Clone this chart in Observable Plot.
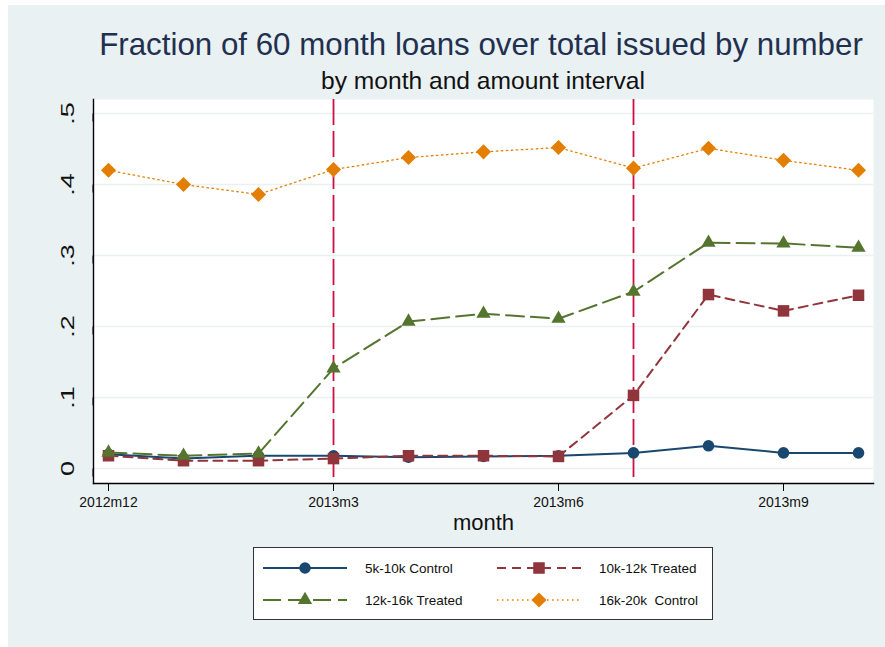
<!DOCTYPE html>
<html><head><meta charset="utf-8">
<script src="https://cdn.jsdelivr.net/npm/d3@7"></script>
<script src="https://cdn.jsdelivr.net/npm/@observablehq/plot@0.6"></script>
<style>
body{margin:0;background:#fff;width:885px;height:647px;overflow:hidden;position:relative;font-family:"Liberation Sans",Arial,sans-serif;}
#bg{position:absolute;left:8px;top:5px;width:877px;height:642px;background:#EAF1F3;}
#chart{position:absolute;left:0;top:0;}
.ttl{position:absolute;white-space:nowrap;transform:translateX(-50%);line-height:1;}
#title{left:481px;top:28.5px;font-size:31.3px;color:#22304f;}
#subtitle{left:483px;top:69px;font-size:24.6px;color:#111;}
#legend{position:absolute;left:253px;top:547px;}
</style></head>
<body>
<div id="bg"></div>
<div id="chart"></div>
<div class="ttl" id="title">Fraction of 60 month loans over total issued by number</div>
<div class="ttl" id="subtitle">by month and amount interval</div>
<div id="legend"></div>
<script>
const months = ["2012m12","2013m1","2013m2","2013m3","2013m4","2013m5","2013m6","2013m7","2013m8","2013m9","2013m10"];
const tickMonths = ["2012m12","2013m3","2013m6","2013m9"];
const treatMonths = ["2013m3","2013m7"];
const yTicks = [0, 0.1, 0.2, 0.3, 0.4, 0.5];
const ctrl5_10  = [0.020, 0.014, 0.018, 0.018, 0.016, 0.017, 0.018, 0.022, 0.032, 0.022, 0.022];
const trt10_12  = [0.018, 0.011, 0.011, 0.014, 0.018, 0.018, 0.017, 0.103, 0.245, 0.222, 0.244];
const trt12_16  = [0.0225, 0.018, 0.021, 0.141, 0.207, 0.218, 0.211, 0.249, 0.318, 0.317, 0.311];
const ctrl16_20 = [0.420, 0.400, 0.386, 0.421, 0.438, 0.446, 0.452, 0.423, 0.451, 0.434, 0.420];
const seriesNames = ["5k-10k Control","10k-12k Treated","12k-16k Treated","16k-20k  Control"];

const series = [
  {name: seriesNames[0], values: ctrl5_10,  color:"#1a476f", dash:null,     width:2,   symbol:"circle",   r:5.8},
  {name: seriesNames[1], values: trt10_12,  color:"#90353b", dash:"9,6",    width:2,   symbol:"square",   r:6.5},
  {name: seriesNames[2], values: trt12_16,  color:"#55752f", dash:"18,7",   width:2,   symbol:"triangle", r:5.3},
  {name: seriesNames[3], values: ctrl16_20, color:"#e37e00", dash:"1.5,3.5",width:1.3, symbol:"diamond2", r:6.8}
];

const marks = [
  Plot.frame({fill:"white"}),
  Plot.gridY(yTicks, {stroke:"#EAF1F3", strokeOpacity:1, strokeWidth:1.5}),
  Plot.ruleX(treatMonths, {stroke:"#cc1144", strokeWidth:1.8, strokeDasharray:"26,6"}),
];
for (const s of series) {
  marks.push(Plot.line(s.values, {x:(d,i)=>months[i], y:d=>d, stroke:s.color, strokeWidth:s.width, strokeDasharray:s.dash}));
  marks.push(Plot.dot(s.values, {x:(d,i)=>months[i], y:d=>d, fill:s.color, stroke:"none", symbol:s.symbol, r:s.r}));
}
marks.push(
  Plot.frame({anchor:"left", stroke:"#000", strokeWidth:1.4}),
  Plot.frame({anchor:"bottom", stroke:"#000", strokeWidth:1.4}),
  Plot.axisY(yTicks, {tickSize:8, tickPadding:17, fontSize:18, rotate:-90, textAnchor:"middle", lineAnchor:"middle",
    tickFormat: d => d === 0 ? "0" : d3.format(".1f")(d).replace(/^0/, ""), label:null, stroke:"#000"}),
  Plot.axisX(tickMonths, {tickSize:8, tickPadding:6, fontSize:14, label:null, stroke:"#000"}),
  Plot.text(["month"], {frameAnchor:"bottom", lineAnchor:"middle", dy:39, fontSize:22, fill:"#111"})
);

const chart = Plot.plot({
  width: 885, height: 530,
  marginLeft: 93, marginRight: 12, marginTop: 99, marginBottom: 47,
  style: {background:"transparent", fontFamily:"Liberation Sans, Arial, sans-serif", color:"#111", overflow:"visible"},
  x: {type:"point", domain: months, padding: 0.2},
  y: {domain: [-0.0211, 0.5197]},
  marks
});
document.getElementById("chart").appendChild(chart);
// stretch rotated y tick labels along their reading direction (about their own centre), like the reference
d3.select(chart).selectAll("g[aria-label='y-axis tick label'] text").each(function() {
  const b = this.getBBox();
  const cx = b.x + b.width / 2, cy = b.y + b.height / 2;
  const t = this.getAttribute("transform") || "";
  this.setAttribute("transform", `${t} translate(${cx},${cy}) scale(1.5,1) translate(${-cx},${-cy})`);
});

// Legend
const lg = d3.select("#legend").append("svg").attr("width", 460).attr("height", 73)
  .style("font-family", "Liberation Sans, Arial, sans-serif");
lg.append("rect").attr("x",0.5).attr("y",0.5).attr("width",459).attr("height",72).attr("fill","white").attr("stroke","#333").attr("stroke-width",1);
const pos = [[10,21],[244,21],[10,53],[244,53]];
series.forEach((s, k) => {
  const [x0, y0] = pos[k];
  const g = lg.append("g").attr("transform", `translate(${x0},${y0})`);
  g.append("line").attr("x1",0).attr("x2",84).attr("y1",0).attr("y2",0)
    .attr("stroke", s.color).attr("stroke-width", s.width).attr("stroke-dasharray", s.dash);
  const sym = {circle:d3.symbolCircle, square:d3.symbolSquare, triangle:d3.symbolTriangle, diamond2:d3.symbolDiamond2}[s.symbol];
  g.append("path").attr("transform","translate(42,0)").attr("d", d3.symbol(sym, Math.PI*s.r*s.r)()).attr("fill", s.color);
  g.append("text").attr("x",102).attr("y",0).attr("dy","0.35em").attr("font-size",13.5).attr("fill","#111")
    .attr("xml:space","preserve").style("white-space","pre").text(s.name);
});
</script>
</body></html>
